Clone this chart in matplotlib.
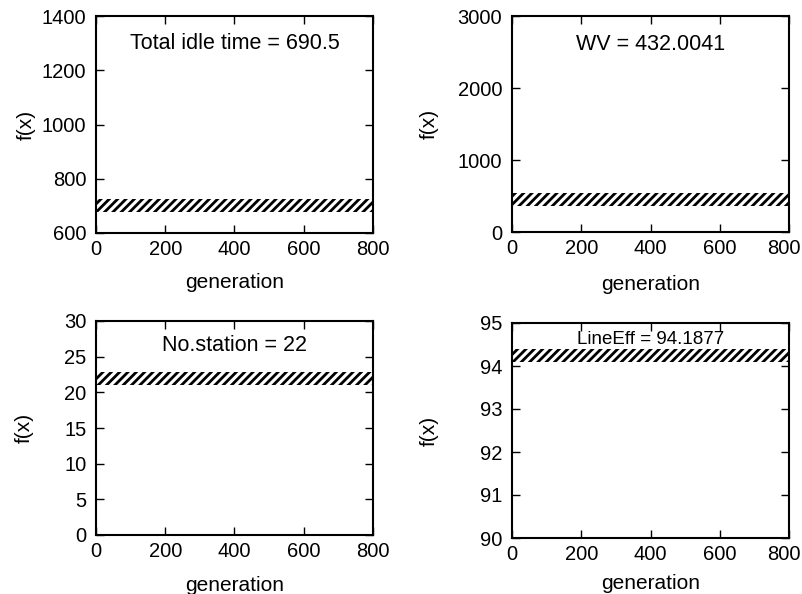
import matplotlib.pyplot as plt
from matplotlib.transforms import ScaledTranslation

plt.rcParams['font.family'] = ['Liberation Sans', 'DejaVu Sans']
plt.rcParams['hatch.linewidth'] = 2.0

# generation range of each run
generation = [0, 800]

# band of f(x) values seen over the generations (lower / upper edge)
idle_low, idle_high = [678, 678], [724, 724]
wv_low, wv_high = [364, 364], [543, 543]
station_low, station_high = [21.0, 21.0], [22.9, 22.9]
eff_low, eff_high = [94.09, 94.09], [94.39, 94.39]

labels = ['Total idle time = 690.5', 'WV = 432.0041',
          'No.station = 22', 'LineEff = 94.1877']
ylims = [(600, 1400), (0, 3000), (0, 30), (90, 95)]
yticks = [[600, 800, 1000, 1200, 1400], [0, 1000, 2000, 3000],
          [0, 5, 10, 15, 20, 25, 30], [90, 91, 92, 93, 94, 95]]
lows = [idle_low, wv_low, station_low, eff_low]
highs = [idle_high, wv_high, station_high, eff_high]

W, H = 803, 594
# axes boxes in pixels: left, top, right, bottom
boxes = [(96, 16, 373, 233), (512, 16, 789, 232),
         (96, 321, 373, 535), (512, 323, 789, 538)]
text_y = [0.875, 0.87, 0.885, 0.925]
text_size = [15.5, 15.5, 15.5, 13.5]
ylab_x = [-0.25, -0.30, -0.26, -0.30]
xlab_y = [-0.23, -0.245, -0.234, -0.21]

fig = plt.figure(figsize=(W / 100, H / 100), dpi=100)

for i in range(4):
    l, t, r, b = boxes[i]
    ax = fig.add_axes([l / W, 1 - b / H, (r - l) / W, (b - t) / H])
    ax.fill_between(generation, lows[i], highs[i], facecolor='none',
                    edgecolor='black', hatch='////', linewidth=0)
    ax.set_xlim(0, 800)
    ax.set_ylim(*ylims[i])
    ax.set_xticks([0, 200, 400, 600, 800])
    ax.set_yticks(yticks[i])
    ax.tick_params(direction='in', top=True, right=True, length=6,
                   width=1, labelsize=14.5)
    ax.tick_params(axis='x', pad=5)
    ax.tick_params(axis='y', pad=7)
    for s in ax.spines.values():
        s.set_linewidth(1.5)
    ax.set_xlabel('generation', fontsize=15, va='center')
    ax.set_ylabel('f(x)', fontsize=15, va='center')
    ax.xaxis.set_label_coords(0.5, xlab_y[i])
    ax.yaxis.set_label_coords(ylab_x[i], 0.5)
    ax.text(0.5, text_y[i], labels[i], transform=ax.transAxes,
            ha='center', va='center', fontsize=text_size[i])
    if i % 2 == 1:
        # keep the last label inside the figure, as in the original
        last = ax.get_xticklabels()[-1]
        last.set_transform(last.get_transform() +
                           ScaledTranslation(-5 / 100, 0, fig.dpi_scale_trans))

fig.savefig('out.png', dpi=100)
